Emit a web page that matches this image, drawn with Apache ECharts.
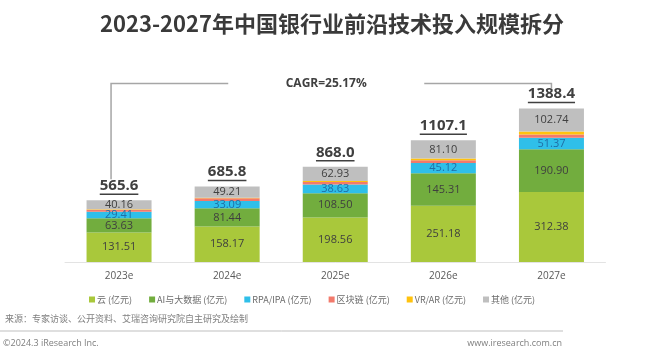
<!DOCTYPE html>
<html><head><meta charset="utf-8">
<script src="https://cdn.jsdelivr.net/npm/echarts@6/dist/echarts.min.js"></script>
<style>html,body{margin:0;padding:0;background:#fff}#c{width:664px;height:355px}</style>
</head><body><div id="c"></div>
<script>
const categories = ['2023e','2024e','2025e','2026e','2027e'];
const cloud = [131.51,158.17,198.56,251.18,312.38];
const aiData = [63.63,81.44,108.50,145.31,190.90];
const rpa = [29.41,33.09,38.63,45.12,51.37];
const blockchain = [9,12,11,12,14];
const vrar = [2,2.5,5,8,14];
const other = [40.16,49.21,62.93,81.10,102.74];
const totals = [565.6,685.8,868.0,1107.1,1388.4];
const seriesNames = ['云 (亿元)','AI与大数据 (亿元)','RPA/IPA (亿元)','区块链 (亿元)','VR/AR (亿元)','其他 (亿元)'];
const cagrText = 'CAGR=25.17%';

const FONT = "'Open Sans','Noto Sans CJK SC',sans-serif";
const colors = ['#a9c83b','#72ad3e','#2fbfe9','#f27a6c','#ffc20e','#bfbfbf'];
const labelColors = ['#3f3f3f','#3f3f3f','#1f6ea6',null,null,'#404040'];
const allData = [cloud, aiData, rpa, blockchain, vrar, other];
const stackSum = categories.map((_, i) => allData.reduce((s, a) => s + a[i], 0));

const cv = document.createElement('canvas').getContext('2d');
function textW(t, f){ cv.font = f; return cv.measureText(t).width; }

const chart = echarts.init(document.getElementById('c'));
const barSeries = allData.map((d, k) => ({
  name: seriesNames[k], type: 'bar', stack: 'a', data: d, barWidth: 65,
  itemStyle: { color: colors[k] },
  label: labelColors[k] ? { show: true, position: 'inside', fontSize: 11, fontFamily: FONT,
    color: labelColors[k], formatter: p => p.value.toFixed(2) } : { show: false },
  emphasis: { disabled: true }
}));

const totalSeries = {
  type: 'custom', silent: true, z: 5,
  data: categories.map((c, i) => [i, stackSum[i], totals[i]]),
  renderItem: (params, api) => {
    const p = api.coord([api.value(0), api.value(1)]);
    const t = api.value(2).toFixed(1);
    const f = 'bold 15px ' + FONT;
    const w = textW(t, f);
    return { type: 'group', children: [
      { type: 'text', style: { text: t, x: p[0], y: p[1] - 7, align: 'center', verticalAlign: 'bottom', font: f, fill: '#404040' } },
      { type: 'line', shape: { x1: p[0] - w/2, y1: p[1] - 6, x2: p[0] + w/2, y2: p[1] - 6 }, style: { stroke: '#404040', lineWidth: 1.5 } }
    ]};
  }
};

const bracketSeries = {
  type: 'custom', silent: true, z: 5,
  data: [[0, stackSum[0]]],
  renderItem: (params, api) => {
    const a = api.coord([0, stackSum[0]]);
    const b = api.coord([categories.length - 1, stackSum[categories.length - 1]]);
    const lx = a[0] - 8, rx = b[0], top = b[1] - 25;
    const cx = (lx + rx) / 2 - 5;
    const st = { stroke: '#a6a6a6', lineWidth: 1.5 };
    return { type: 'group', children: [
      { type: 'polyline', shape: { points: [[lx, a[1] - 21], [lx, top], [cx - 98, top]] }, style: Object.assign({ fill: null }, st) },
      { type: 'polyline', shape: { points: [[cx + 98, top], [rx, top], [rx, top + 5]] }, style: Object.assign({ fill: null }, st) },
      { type: 'text', style: { text: cagrText, x: cx, y: top, align: 'center', verticalAlign: 'middle', font: 'bold 12px ' + FONT, fill: '#404040' } }
    ]};
  }
};

chart.setOption({
  animation: false,
  textStyle: { fontFamily: FONT },
  title: { text: '2023-2027年中国银行业前沿技术投入规模拆分', left: 'center', top: 8,
    textStyle: { fontSize: 22, fontWeight: 'bold', color: '#3a3a3a', fontFamily: "'Noto Sans CJK SC',sans-serif" } },
  grid: { left: 65, right: 58.5, top: 80, bottom: 93 },
  xAxis: { type: 'category', data: categories,
    axisLine: { lineStyle: { color: '#e3e3e3', width: 1 } }, axisTick: { show: false },
    axisLabel: { color: '#595959', fontSize: 10, margin: 9 } },
  yAxis: { type: 'value', min: 0, max: 812, show: false, splitLine: { show: false } },
  legend: { data: seriesNames, left: 84, top: 290, width: 560, itemWidth: 6, itemHeight: 6, itemGap: 17,
    icon: 'rect', textStyle: { color: '#6b6b6b', fontSize: 9, padding: [0, 0, 0, -3], fontFamily: "'Noto Sans CJK SC',sans-serif" } },
  graphic: [
    { type: 'text', left: 5, top: 314, style: { text: '来源：专家访谈、公开资料、艾瑞咨询研究院自主研究及绘制', font: "9px 'Noto Sans CJK SC',sans-serif", fill: '#7f7f7f' } },
    { type: 'line', shape: { x1: 0, y1: 331, x2: 563, y2: 331 }, style: { stroke: '#bfbfbf', lineWidth: 1 } },
    { type: 'text', left: 3, top: 339, style: { text: '©2024.3 iResearch Inc.', font: "9px 'Open Sans',sans-serif", fill: '#7f7f7f' } },
    { type: 'text', right: 102, top: 339, style: { text: 'www.iresearch.com.cn', font: "9px 'Open Sans',sans-serif", fill: '#7f7f7f' } }
  ],
  series: [...barSeries, totalSeries, bracketSeries]
});
</script></body></html>
